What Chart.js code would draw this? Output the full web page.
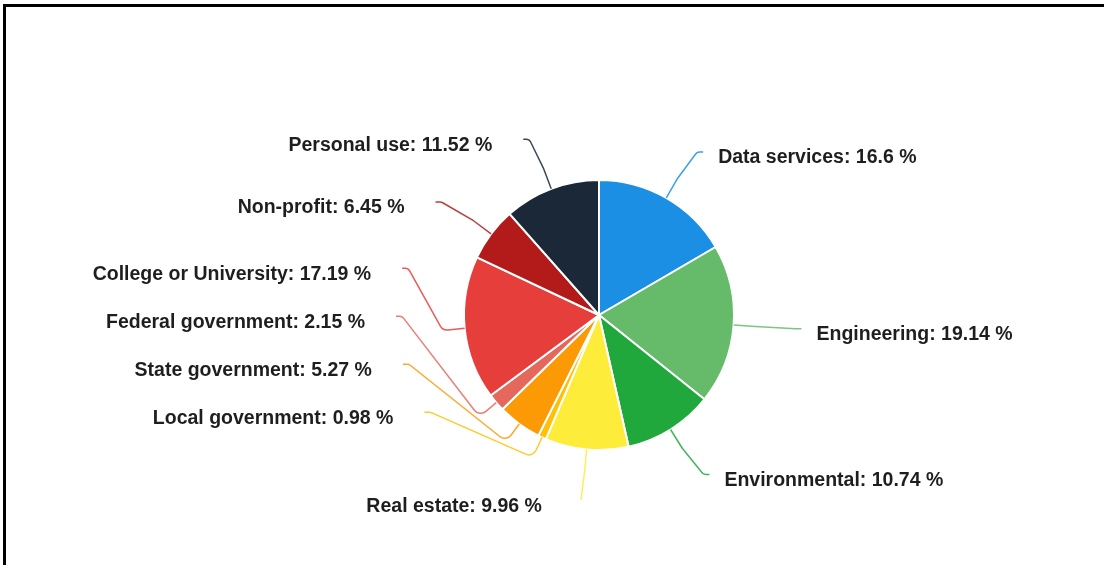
<!DOCTYPE html>
<html>
<head>
<meta charset="utf-8">
<script src="https://cdn.jsdelivr.net/npm/chart.js@4.4.0/dist/chart.umd.min.js"></script>
<style>
    html, body { margin: 0; padding: 0; background: #fff; }
    #frame {
        position: absolute; left: 3px; top: 4px; width: 1101px; height: 561px;
        border-top: 3px solid #000; border-left: 3px solid #000; box-sizing: border-box;
    }
    #wrap { position: absolute; left: 0; top: 0; width: 1104px; height: 565px; }
</style>
</head>
<body>
<div id="frame"></div>
<div id="wrap"><canvas id="sectorChart"></canvas></div>
<script>
// Share of users by sector (%)
const sectors = ["Data services", "Engineering", "Environmental", "Real estate", "Local government",
    "State government", "Federal government", "College or University", "Non-profit", "Personal use"];
const shares = [16.6, 19.14, 10.74, 9.96, 0.98, 5.27, 2.15, 17.19, 6.45, 11.52];
const sliceColors = ["#1a8fe3", "#66bb6a", "#20a83c", "#fdec3a", "#ffc107",
    "#fb9a05", "#e5685c", "#e53e3b", "#b31b1b", "#1b2838"];

// Draw the labels with curved leader lines
const leaderLabels = {
    id: 'leaderLabels',
    afterDatasetsDraw(chart) {
        const ctx = chart.ctx;
        const meta = chart.getDatasetMeta(0);

        const items = meta.data.map(function (arc, i) {
            const mid = (arc.startAngle + arc.endAngle) / 2;
            const r = arc.outerRadius;
            const R = r + 62;      // horizontal radius of the label ring
            const Ry = r + 53;     // vertical radius of the label ring
            return {
                i: i, cx: arc.x, cy: arc.y, r: r, R: R, Ry: Ry,
                cos: Math.cos(mid), sin: Math.sin(mid),
                x: arc.x + R * Math.cos(mid), y: arc.y + Ry * Math.sin(mid),
                bottom: Math.abs(Math.cos(mid)) <= 0.25 && Math.sin(mid) > 0
            };
        });

        // left column: push labels up so they don't collide
        const left = items.filter(it => it.cos < -0.25).sort((a, b) => b.y - a.y);
        let limit = left.length ? left[0].cy + left[0].r * 0.72 : 0;
        left.forEach(function (it) {
            it.y = Math.min(it.y, limit);
            limit = it.y - 48;
            const k = (it.y - it.cy) / it.Ry;
            it.x = it.cx - it.R * Math.sqrt(Math.max(1 - k * k, 0));
        });
        items.forEach(function (it) {
            if (it.bottom) it.y = Math.min(it.y, it.cy + it.r + 50);
        });

        ctx.save();
        items.forEach(function (it) {
            const dir = it.cos < 0 ? -1 : 1;
            const p0 = { x: it.cx + it.r * it.cos, y: it.cy + it.r * it.sin };
            const p1 = { x: it.cx + (it.r + 22) * it.cos, y: it.cy + (it.r + 22) * it.sin };
            const p2 = { x: it.x, y: it.y };

            ctx.strokeStyle = sliceColors[it.i];
            ctx.globalAlpha = 0.85;
            ctx.lineWidth = 1.5;
            ctx.beginPath();
            ctx.moveTo(p0.x, p0.y);
            ctx.arcTo(p1.x, p1.y, p2.x, p2.y, 8);
            if (it.bottom) {
                ctx.lineTo(p2.x, p2.y);
            } else {
                ctx.arcTo(p2.x, p2.y, p2.x + dir * 6, p2.y, 5);
                ctx.lineTo(p2.x + dir * 6, p2.y);
            }
            ctx.stroke();

            ctx.globalAlpha = 1;
            ctx.font = 'bold 19.5px "Liberation Sans", Arial, sans-serif';
            ctx.fillStyle = '#1e1e1e';
            ctx.textBaseline = 'middle';
            ctx.textAlign = dir < 0 ? 'right' : 'left';
            const text = sectors[it.i] + ': ' + shares[it.i] + ' %';
            if (it.bottom) {
                ctx.fillText(text, p2.x - 39, p2.y + 7);
            } else {
                ctx.fillText(text, p2.x + (dir < 0 ? -37 : 21), p2.y + 6);
            }
        });
        ctx.restore();
    }
};

document.addEventListener('DOMContentLoaded', function () {
    new Chart(document.getElementById('sectorChart'), {
        type: 'pie',
        data: {
            labels: sectors,
            datasets: [{
                data: shares,
                backgroundColor: sliceColors,
                borderColor: '#ffffff',
                borderWidth: 2,
                hoverOffset: 0,
                radius: 135
            }]
        },
        options: {
            responsive: true,
            maintainAspectRatio: false,
            animation: false,
            layout: { padding: { left: 94, right: 0, top: 65, bottom: 0 } },
            plugins: {
                legend: { display: false },
                tooltip: { enabled: false }
            }
        },
        plugins: [leaderLabels]
    });
});
</script>
</body>
</html>
